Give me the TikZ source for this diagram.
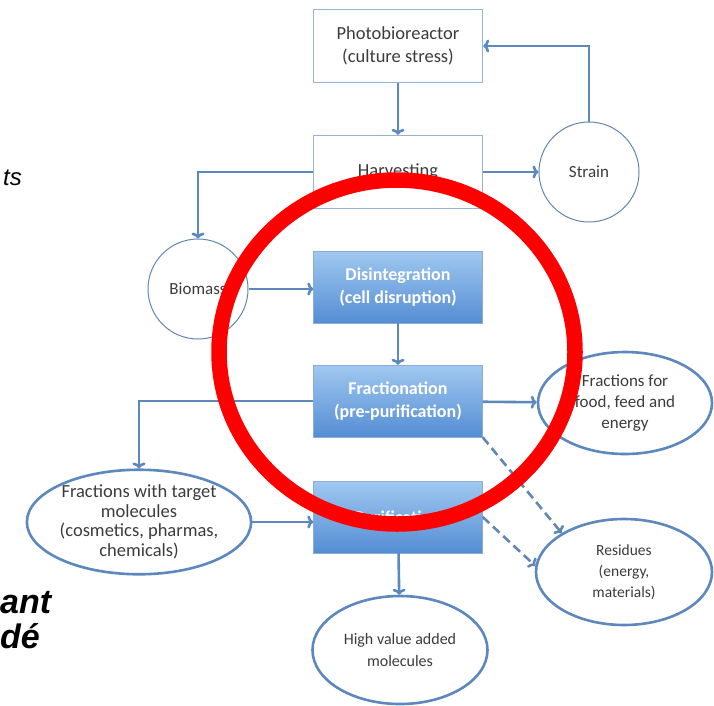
\documentclass[tikz,border=0pt]{standalone}
\usepackage{fontspec}
\setmainfont{Carlito}
\newfontfamily\slidefont{Liberation Sans}
\usepackage{tikz}
\usetikzlibrary{arrows,arrows.meta,shapes,positioning}
\definecolor{mablue}{RGB}{92,136,190}
\definecolor{malightblue}{RGB}{149,179,215}
\definecolor{matopblue}{RGB}{160,200,240}
\definecolor{mabotblue}{RGB}{84,141,212}
\definecolor{matext}{RGB}{60,60,60}
\tikzstyle{arrow} = [line width=2.6pt,-{To[length=6pt,width=13pt]},color=mablue]
\tikzstyle{dasharrow} = [arrow,dash pattern=on 9pt off 5pt,color=mablue!85!gray]
\tikzstyle{plainbox} = [rectangle, minimum width=169pt, minimum height=73pt, text centered, align=center, draw=malightblue, fill=white, line width=1.4pt, text=matext, font=\fontsize{18.5}{23}\selectfont]
\tikzstyle{bluebox} = [rectangle, minimum width=169pt, minimum height=72pt, text centered, align=center, draw=mablue!70, top color=matopblue, bottom color=mabotblue, text=white, font=\bfseries\fontsize{18}{23}\selectfont]
\tikzstyle{thincircle} = [circle, minimum size=100pt, inner sep=0pt, draw=mablue!80!gray, line width=1pt, fill=white, text=matext, font=\fontsize{17}{20}\selectfont]
\tikzstyle{outcome} = [ellipse, inner sep=0pt, align=center, draw=mablue, line width=2.6pt, fill=white, text=matext]

\begin{document}
\begin{tikzpicture}[x=1pt,y=-1pt]
\useasboundingbox (0,0) rectangle (714,705);

% left slide text
\node[anchor=base east, inner sep=0pt, font=\slidefont\itshape\fontsize{24}{24}\selectfont] (fragtop) at (22,185) {ts};
\node[anchor=base west, inner sep=0pt, font=\slidefont\bfseries\itshape\fontsize{34}{34}\selectfont] (fragmid) at (0,613) {ant};
\node[anchor=base west, inner sep=0pt, font=\slidefont\bfseries\itshape\fontsize{34}{34}\selectfont] (fraglow) at (0,648) {dé};

% upstream
\node[plainbox] (pbr) at (398,46) {Photobioreactor\\(culture stress)};
\node[plainbox] (harv) at (398,172) {Harvesting};
\node[thincircle] (strain) at (589,172) {Strain};
\node[thincircle] (biomass) at (198,289) {Biomass};

% processing steps
\node[bluebox] (disint) at (398,287) {Disintegration\\(cell disruption)};
\node[bluebox] (fract) at (398,401) {Fractionation\\(pre-purification)};
\node[bluebox] (purif) at (398,517) {Purification};

% products
\node[outcome, minimum width=174pt, minimum height=102pt, font=\fontsize{17}{21}\selectfont] (food) at (625,403) {Fractions for\\food, feed and\\energy};
\node[outcome, minimum width=220pt, minimum height=102pt, font=\fontsize{18.5}{19.5}\selectfont] (target) at (139,522) {Fractions with target\\molecules\\(cosmetics, pharmas,\\chemicals)};
\node[outcome, minimum width=176pt, minimum height=106pt, font=\fontsize{15.5}{21}\selectfont] (residues) at (624,572) {Residues\\(energy,\\materials)};
\node[outcome, minimum width=175pt, minimum height=108pt, font=\fontsize{16}{22}\selectfont] (high) at (400,650) {High value added\\molecules};

% Arrows
\draw[arrow] (pbr) -- (harv);
\draw[arrow] (harv) -- (strain);
\draw[arrow] (strain.north) |- (pbr.east);
\draw[arrow] (harv.west) -| (biomass.north);
\draw[arrow] (biomass.east) -- (biomass.east -| disint.west);
\draw[arrow] (disint) -- (fract);
\draw[arrow] (fract.west) -| (target.north);
\draw[arrow] (fract) -- (food);
\draw[arrow] (target.east) -- (target.east -| purif.west);
\draw[arrow] (purif) -- (high);
\draw[dasharrow] (fract.south east) -- (residues.148);
\draw[dasharrow] (purif.east) -- (residues.176);

% marker circle
\draw[red, line width=15.5pt] (397,352) ellipse [x radius=178, y radius=172];
\end{tikzpicture}
\end{document}
